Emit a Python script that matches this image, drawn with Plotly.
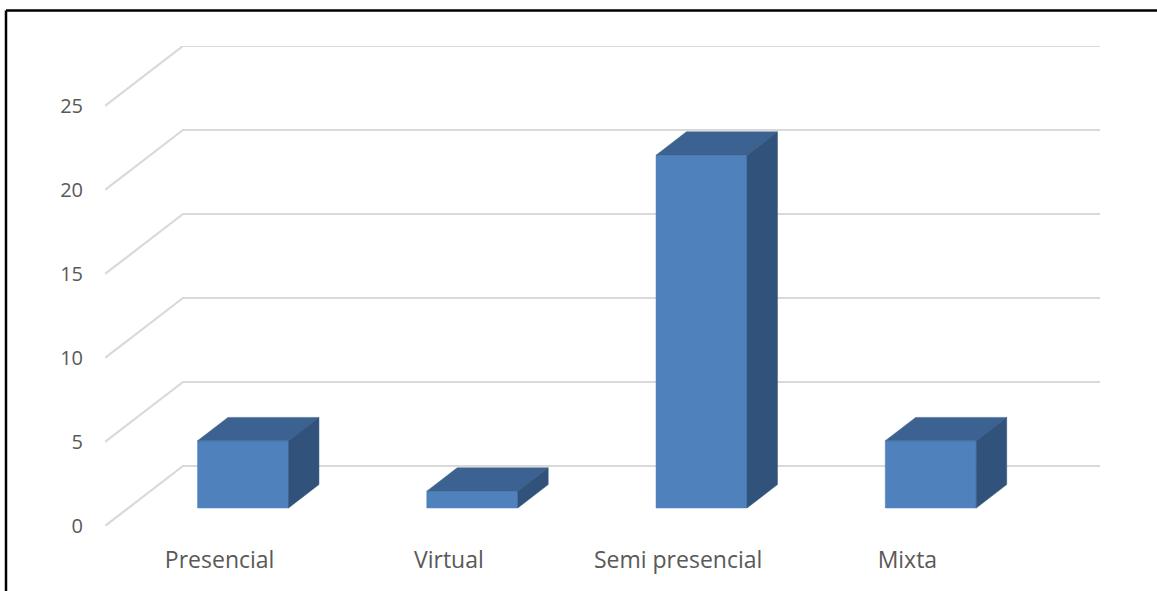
import plotly.graph_objects as go

# Data
categories = ["Presencial", "Virtual", "Semi presencial", "Mixta"]
values = [4, 1, 21, 4]
y_ticks = [0, 5, 10, 15, 20, 25]

# Oblique (cabinet-style) projection: full floor depth expressed in axis units
DEPTH_X = 78 / 229.25   # category units
DEPTH_Y = 60 / 16.8     # value units
BAR_HALF = 0.1985       # half bar width, category units
Z_FRONT, Z_BACK = 0.30, 0.69  # bar depth span within the floor

X_MIN, X_MAX = -0.5, len(categories) - 0.5
Y_MAX = y_ticks[-1]

FRONT_COL = "#4F81BD"
TOP_COL = "#3B6290"
SIDE_COL = "#31527B"
GRID_COL = "#D9D9D9"
TEXT_COL = "#595959"


def proj(x, v, z):
    return x + z * DEPTH_X, v + z * DEPTH_Y


def poly(points):
    xs, ys = [], []
    for p in points:
        px, py = proj(*p)
        xs.append(px)
        ys.append(py)
    xs.append(xs[0])
    ys.append(ys[0])
    return xs, ys


fig = go.Figure()

# Walls: diagonal floor-to-back lines and back-wall gridlines
gx, gy = [], []
for t in y_ticks:
    for p in [(X_MIN, t, 0), (X_MIN, t, 1), (X_MAX, t, 1)]:
        px, py = proj(*p)
        gx.append(px)
        gy.append(py)
    gx.append(None)
    gy.append(None)
fig.add_trace(go.Scatter(x=gx, y=gy, mode="lines",
                         line=dict(color=GRID_COL, width=2.2),
                         hoverinfo="skip", showlegend=False))

# Bars: front, top and side faces
faces = {"front": ([], []), "top": ([], []), "side": ([], [])}
for i, v in enumerate(values):
    x0, x1 = i - BAR_HALF, i + BAR_HALF
    shapes = {
        "front": [(x0, 0, Z_FRONT), (x1, 0, Z_FRONT), (x1, v, Z_FRONT), (x0, v, Z_FRONT)],
        "top": [(x0, v, Z_FRONT), (x1, v, Z_FRONT), (x1, v, Z_BACK), (x0, v, Z_BACK)],
        "side": [(x1, 0, Z_FRONT), (x1, 0, Z_BACK), (x1, v, Z_BACK), (x1, v, Z_FRONT)],
    }
    for name, pts in shapes.items():
        xs, ys = poly(pts)
        faces[name][0].extend(xs + [None])
        faces[name][1].extend(ys + [None])

for name, col in [("front", FRONT_COL), ("top", TOP_COL), ("side", SIDE_COL)]:
    fig.add_trace(go.Scatter(x=faces[name][0], y=faces[name][1], mode="lines",
                             fill="toself", fillcolor=col,
                             line=dict(color=col, width=0.5),
                             hoverinfo="skip", showlegend=False))

fig.update_layout(
    width=1157, height=591,
    margin=dict(l=105, r=57, t=46, b=65),
    paper_bgcolor="white", plot_bgcolor="white",
    font=dict(family="Open Sans", color=TEXT_COL),
    xaxis=dict(range=[X_MIN, X_MAX + DEPTH_X], tickvals=list(range(len(categories))),
               ticktext=categories, showgrid=False, zeroline=False, showline=False,
               ticklabelstandoff=18, tickfont=dict(size=23, color=TEXT_COL),
               fixedrange=True),
    yaxis=dict(range=[0, Y_MAX + DEPTH_Y], tickvals=y_ticks,
               showgrid=False, zeroline=False, showline=False,
               ticklabelstandoff=21, tickfont=dict(size=20, color=TEXT_COL),
               fixedrange=True),
    shapes=[
        dict(type="line", xref="paper", yref="paper",
             x0=-99 / 995, x1=-99 / 995, y0=-65 / 480, y1=515.5 / 480,
             line=dict(color="black", width=2.5)),
        dict(type="line", xref="paper", yref="paper",
             x0=-99 / 995, x1=1052 / 995, y0=515.5 / 480, y1=515.5 / 480,
             line=dict(color="black", width=2.5)),
    ],
)

fig.write_html("out.html")
